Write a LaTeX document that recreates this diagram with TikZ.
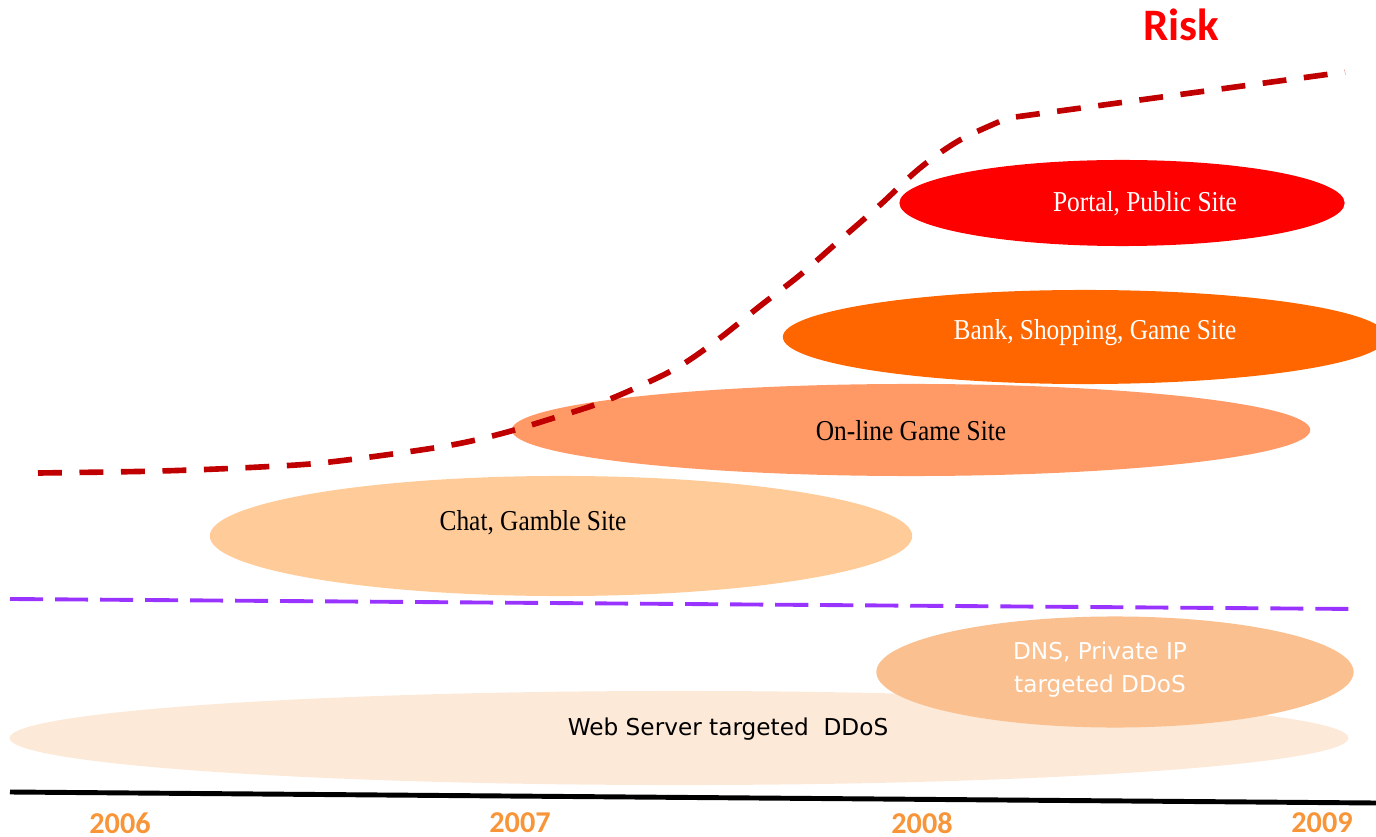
\documentclass[tikz,border=0pt]{standalone}
\usepackage{fontspec}
\usepackage{tikz}
\usetikzlibrary{shapes.geometric}
\newfontfamily\siteserif[FakeStretch=0.88]{Liberation Serif}
\newfontfamily\sitesans{DejaVu Sans}
\newfontfamily\yearsans{Carlito}
\definecolor{riskred}{HTML}{C00000}
\definecolor{limitpurple}{HTML}{9933FF}
\definecolor{yearorange}{HTML}{F79538}
\definecolor{portalfill}{HTML}{FF0000}
\definecolor{bankfill}{HTML}{FF6600}
\definecolor{gamefill}{HTML}{FF9966}
\definecolor{chatfill}{HTML}{FFCC99}
\definecolor{webfill}{HTML}{FDE9D7}
\definecolor{dnsfill}{HTML}{FAC08F}

\begin{document}
\begin{tikzpicture}[x=0.01cm, y=-0.01cm,
	site/.style={ellipse, draw=none, inner sep=0pt},
	serif label/.style={font=\siteserif\fontsize{8.2}{10}\selectfont},
	sans label/.style={font=\sitesans\fontsize{6.6}{9.4}\selectfont, align=center},
	year/.style={font=\yearsans\bfseries\fontsize{8.6}{10}\selectfont, text=yearorange},
	risk curve/.style={draw=riskred, line width=1.6pt, dash pattern=on 6.8pt off 5pt},
	limit line/.style={draw=limitpurple, line width=1.1pt, dash pattern=on 9.4pt off 3.4pt},
	time axis/.style={draw=black, line width=1.4pt}]
	\useasboundingbox (0,0) rectangle (1376,837);

	\node[site, fill=webfill, minimum width=13.38cm, minimum height=0.94cm] (web) at (679,738) {};
	\node[site, fill=dnsfill, minimum width=4.77cm, minimum height=1.11cm] (dns) at (1115,672) {};
	\node[site, fill=chatfill, minimum width=7.02cm, minimum height=1.2cm] (chat) at (561,536) {};
	\node[site, fill=gamefill, minimum width=7.98cm, minimum height=0.92cm] (game) at (911,430) {};
	\node[site, fill=bankfill, minimum width=6.04cm, minimum height=0.94cm] (bank) at (1085,337) {};
	\node[site, fill=portalfill, minimum width=4.45cm, minimum height=0.86cm] (portal) at (1122,203) {};

	\node[sans label] (webText) at (728,729) {Web Server targeted\ \ DDoS};
	\node[sans label, text=white] (dnsText) at (1100,670) {DNS, Private IP\\targeted DDoS};
	\node[serif label] (chatText) at (533,523) {Chat, Gamble Site};
	\node[serif label] (gameText) at (911,431) {On-line Game Site};
	\node[serif label, text=white] (bankText) at (1095,333) {Bank, Shopping, Game Site};
	\node[serif label, text=white] (portalText) at (1145,204) {Portal, Public Site};

	\node[font=\yearsans\bfseries\fontsize{12.8}{14}\selectfont, text=red] (risk) at (1181,25) {Risk};

	\coordinate (limitL) at (10,599);
	\coordinate (limitR) at (1357,609);
	\coordinate (axisL) at (10,792);
	\coordinate (axisR) at (1376,803);
	\coordinate (riskEnd) at (1345,72);

	\node[year] (y2006) at (120,823) {2006};
	\node[year] (y2007) at (520,823) {2007};
	\node[year] (y2008) at (922,823) {2008};
	\node[year] (y2009) at (1322,823) {2009};

	\draw[limit line] (limitL) -- (limitR);
	\draw[time axis] (axisL) -- (axisR);
	\draw[risk curve] plot[smooth, tension=0.55] coordinates {(38,473) (160,471) (260,467) (330,462) (440,447) (500,434) (560,416) (600,403) (640,386) (680,366) (720,338) (760,306) (800,275) (840,240) (880,205) (920,168) (960,140) (1008,118)} -- (riskEnd);
\end{tikzpicture}
\end{document}
